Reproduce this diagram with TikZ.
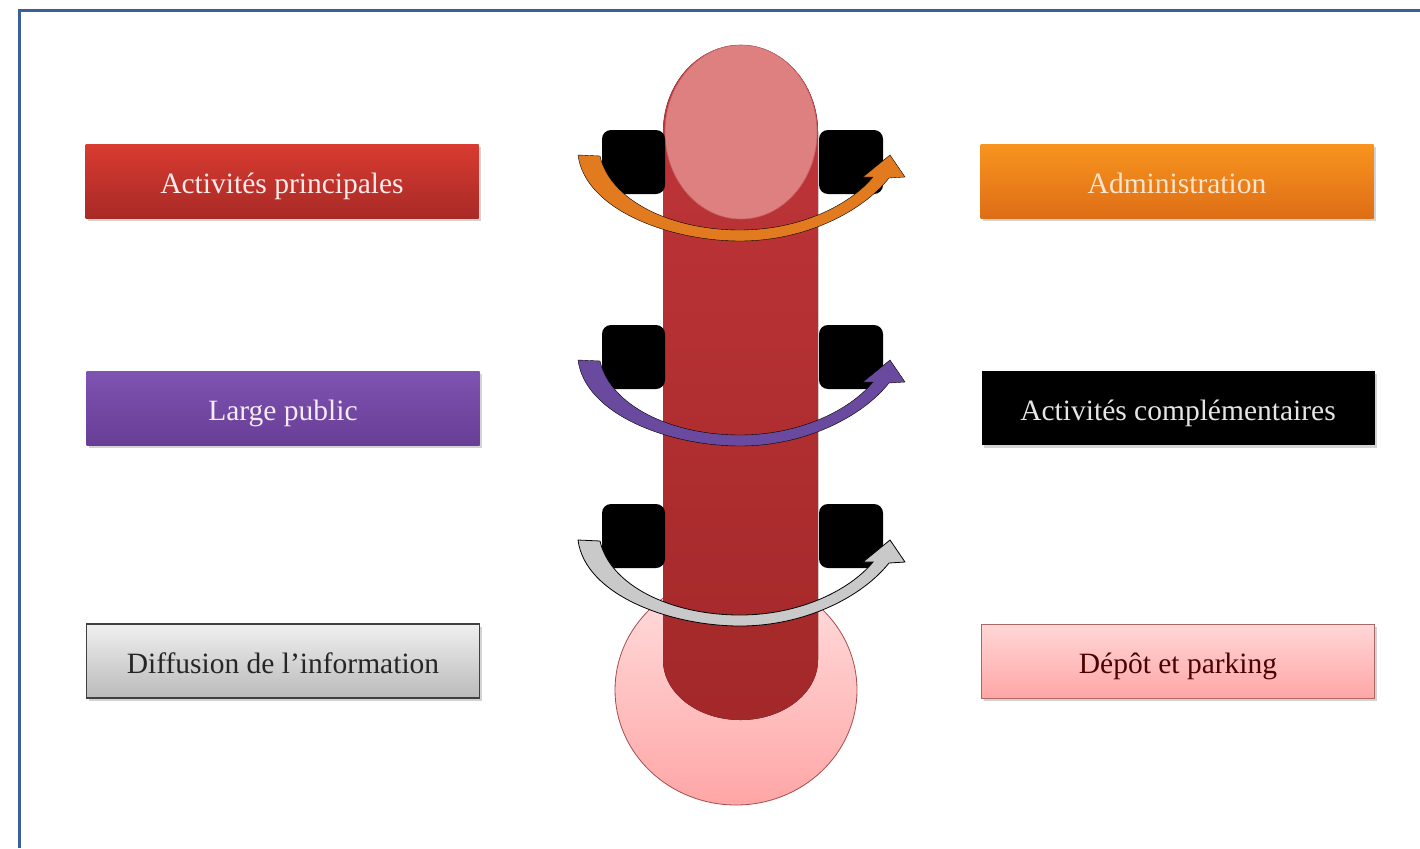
\documentclass[tikz,border=0pt]{standalone}
\usepackage{fontspec}
\setmainfont{Liberation Serif}
\usetikzlibrary{positioning,shadows}
\definecolor{frameblue}{HTML}{3B5E9C}
\definecolor{redtop}{HTML}{D93B2F}
\definecolor{redbot}{HTML}{A82A27}
\definecolor{orangetop}{HTML}{F8941F}
\definecolor{orangebot}{HTML}{DE6E16}
\definecolor{purpletop}{HTML}{7E53B2}
\definecolor{purplebot}{HTML}{683E96}
\definecolor{pinktop}{HTML}{FFD7D7}
\definecolor{pinkbot}{HTML}{FFA6A6}
\definecolor{columnred}{HTML}{C1363A}
\definecolor{columndark}{HTML}{A32829}
\definecolor{capred}{HTML}{DF8080}
\definecolor{arcorange}{HTML}{E27B1F}
\definecolor{arcpurple}{HTML}{6A4A9E}
\tikzset{
  labelbox/.style={minimum width=393pt, minimum height=74pt, inner sep=0pt, align=center,
    font=\fontsize{29.5}{34}\selectfont, text height=24pt, text depth=0pt,
    drop shadow={shadow xshift=2pt, shadow yshift=-3pt, opacity=0.35}},
  redbox/.style={labelbox, top color=redtop, bottom color=redbot, text=red!8},
  orangebox/.style={labelbox, top color=orangetop, bottom color=orangebot, text=orange!20},
  purplebox/.style={labelbox, top color=purpletop, bottom color=purplebot, text=violet!8},
  blackbox/.style={labelbox, fill=black, text=black!10},
  greybox/.style={labelbox, draw=black!75, line width=1.5pt, top color=black!6, bottom color=black!27, text=black!85},
  pinkbox/.style={labelbox, draw=red!45!black!60, line width=1pt, top color=pinktop, bottom color=pinkbot, text=red!30!black},
  pad/.style={fill=black, rounded corners=9pt},
  orangearc/.style={fill=arcorange},
  purplearc/.style={fill=arcpurple},
  greyarc/.style={fill=black!21, draw=black, line width=0.8pt}
}

\begin{document}
\begin{tikzpicture}[x=1pt, y=-1pt]
  \useasboundingbox (0,0) rectangle (1420,848);
  % frame
  \draw[frameblue, line width=3pt] (19,848) -- (19,11) -- (1420,11);

  % central spine
  \draw[top color=pinktop!80, bottom color=pinkbot, draw=red!50!black!70, line width=0.8pt]
    (736,690) ellipse [x radius=121, y radius=115];
  \fill[top color=columnred, bottom color=columndark]
    (663,660) arc[start angle=180, end angle=0, x radius=77.5, y radius=60]
    -- (818,132) arc[start angle=0, end angle=-180, x radius=77.5, y radius=87] -- cycle;
  \draw[fill=capred, draw=red!60!black!60, line width=0.6pt]
    (741,132) ellipse [x radius=76, y radius=87];

  % pads
  \foreach \dy in {0,195,374} {
    \fill[pad] (602,130+\dy) rectangle (665,194+\dy);
    \fill[pad] (819,130+\dy) rectangle (883,194+\dy);
  }

  % curved arrows
  \foreach \dy/\sty in {0/orangearc,205/purplearc,385/greyarc} {
    \begin{scope}[shift={(0,\dy)}]
      \filldraw[\sty] (578,155) .. controls (585,210) and (670,241) .. (740,241)
        .. controls (805,241) and (862,212) .. (889,178)
        -- (905,177) -- (890,155) -- (863,177) -- (873,177)
        .. controls (850,205) and (800,230) .. (740,230)
        .. controls (670,230) and (610,200) .. (600,156) -- cycle;
    \end{scope}
  }

  % labels
  \node[redbox] (princ) at (282,181) {Activités principales};
  \node[purplebox] (public) at (283,408) {Large public};
  \node[greybox] (diffusion) at (283,661) {Diffusion de l’information};
  \node[orangebox] (admin) at (1177,181) {Administration};
  \node[blackbox] (compl) at (1178,408) {Activités complémentaires};
  \node[pinkbox] (depot) at (1178,661) {Dépôt et parking};
\end{tikzpicture}
\end{document}
